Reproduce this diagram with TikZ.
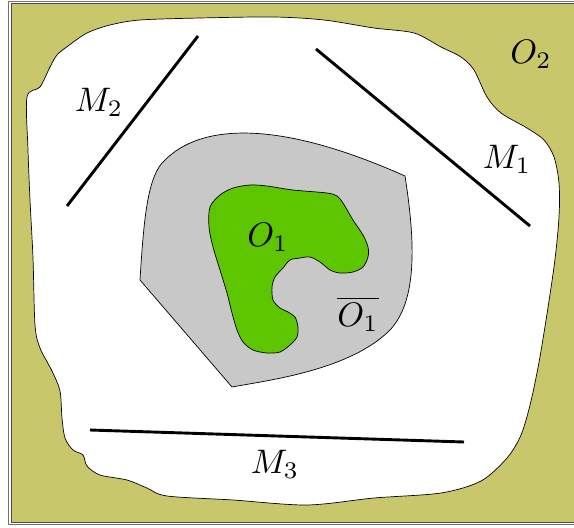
\documentclass[tikz,border=0pt]{standalone}
\usepackage{amsmath}
\usepackage{xcolor}
\definecolor{olivefill}{RGB}{201,199,108}
\definecolor{closurefill}{RGB}{200,200,200}
\definecolor{openfill}{RGB}{94,198,0}

\begin{document}
\begin{tikzpicture}[x=1pt, y=-1pt,
    outline/.style={draw=black, line width=0.7pt},
    wall/.style={line width=2.9pt},
    lbl/.style={inner sep=0pt, scale=3.4}]
    \useasboundingbox (0,0) rectangle (574,528);
    \clip (0,0) rectangle (574,528);
    % frame and outer region
    \draw[draw=black!55, line width=0.8pt] (8.5,1) rectangle (600,524.5);
    \draw[fill=olivefill, draw=black!70, line width=0.6pt] (11.5,3) rectangle (600,522);
    % free space
    \draw[outline, fill=white] plot[smooth cycle] coordinates {
        (27,97) (40,87) (50,67) (57,55) (68,46) (87,33) (110,25) (140,20)
        (200,18) (274,17) (324,20) (374,28) (414,33) (441,47) (461,57)
        (474,70) (487,97) (501,113) (527,128) (544,140) (554,157) (559,183)
        (559,217) (554,267) (541,351) (531,401) (521,435) (507,458) (481,481)
        (441,493) (374,498) (307,505) (233,500) (167,496) (147,488) (127,480)
        (100,475) (87,466) (83,455) (73,450) (65,438) (62,418) (60,391)
        (52,371) (40,348) (35,325) (33,258) (30,200) (28,150)};
    % closure of O1
    \draw[outline, fill=closurefill] (140,280) .. controls (144,215) and (148,175) .. (165,160)
        .. controls (200,125) and (275,118) .. (405,176)
        .. controls (415,240) and (418,300) .. (390,330)
        .. controls (350,370) and (270,380) .. (232,387) -- cycle;
    % O1
    \draw[outline, fill=openfill] plot[smooth cycle] coordinates {
        (210,207) (220,195) (233,188) (250,185) (267,186) (293,190) (327,193)
        (337,196) (343,203) (353,220) (363,235) (368,247) (368,257) (363,267)
        (353,272) (340,273) (330,270) (320,262) (310,257) (300,258) (290,260)
        (283,268) (275,277) (272,287) (273,300) (280,308) (288,312) (295,317)
        (298,327) (297,337) (290,345) (280,352) (267,353) (253,350) (243,342)
        (237,330) (232,313) (227,293) (220,270) (213,247) (209,227)};
    % walls
    \coordinate (m1a) at (316,49);
    \coordinate (m1b) at (530,226);
    \coordinate (m2a) at (198,36);
    \coordinate (m2b) at (67,206);
    \coordinate (m3a) at (90,430);
    \coordinate (m3b) at (464,442);
    \draw[wall] (m1a) -- (m1b);
    \draw[wall] (m2a) -- (m2b);
    \draw[wall] (m3a) -- (m3b);
    % labels
    \node[lbl] (O2) at (531,54) {$O_2$};
    \node[lbl] (M1) at (507,159) {$M_1$};
    \node[lbl] (M2) at (99,102) {$M_2$};
    \node[lbl] (M3) at (275,464) {$M_3$};
    \node[lbl] (O1) at (268,237) {$O_1$};
    \node[lbl] (O1bar) at (358,314) {$\overline{O_1}$};
\end{tikzpicture}
\end{document}
